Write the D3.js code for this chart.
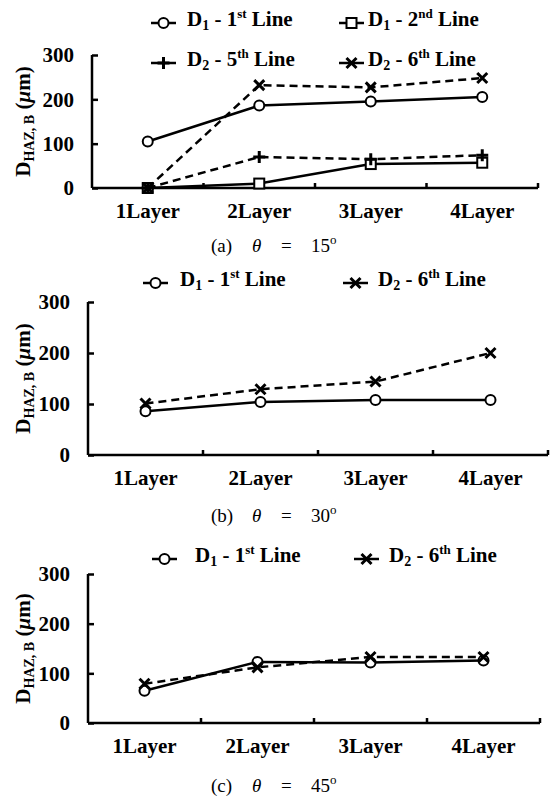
<!DOCTYPE html>
<html>
<head>
<meta charset="utf-8">
<script src="https://cdn.jsdelivr.net/npm/d3@7"></script>
<style>
  body { margin: 0; background: #fff; }
  svg { display: block; font-family: "Liberation Serif", "Times New Roman", serif; }
</style>
</head>
<body>
<svg width="552" height="798"></svg>
<script>
// categories and tick values shared by all three panels
var layers = ["1Layer", "2Layer", "3Layer", "4Layer"];
var yTicks = [0, 100, 200, 300];

// (a) theta = 15
var a_d1_1st = [105, 186, 195, 205];
var a_d1_2nd = [0, 10, 54, 57];
var a_d2_5th = [0, 70, 65, 74];
var a_d2_6th = [0, 232, 227, 248];

// (b) theta = 30
var b_d1_1st = [86, 104, 108, 108];
var b_d2_6th = [101, 129, 144, 200];

// (c) theta = 45
var c_d1_1st = [65, 123, 122, 126];
var c_d2_6th = [79, 112, 133, 133];

var svg = d3.select("svg");
var fs = 21;

// draws one marker shape centred at 0,0
function marker(g, type) {
    if (type == "circle") {
        g.append("circle").attr("r", 5).attr("fill", "#fff").attr("stroke", "#000").attr("stroke-width", 2);
    } else if (type == "square") {
        g.append("rect").attr("x", -5).attr("y", -5).attr("width", 10).attr("height", 10)
            .attr("fill", "#fff").attr("stroke", "#000").attr("stroke-width", 2);
    } else if (type == "plus") {
        g.append("path").attr("d", "M-6,0H6M0,-6V6").attr("stroke", "#000").attr("stroke-width", 3);
    } else if (type == "cross") {
        g.append("path").attr("d", "M-5,-5L5,5M-5,5L5,-5").attr("stroke", "#000").attr("stroke-width", 3);
    }
}

// legend label like "D1 - 1st Line"
function legendText(g, x, y, sub, num, sup) {
    var t = g.append("text").attr("x", x).attr("y", y + 3)
        .attr("font-size", fs).attr("font-weight", "bold");
    t.append("tspan").text("D");
    t.append("tspan").attr("font-size", 14).attr("dy", 4).text(sub);
    t.append("tspan").attr("dy", -4).text(" - " + num);
    t.append("tspan").attr("font-size", 13).attr("dy", -8).text(sup);
    t.append("tspan").attr("dy", 8).text(" Line");
}

function drawPanel(p) {
    var g = svg.append("g");

    var x = d3.scaleBand().domain(layers).range([p.left, p.right]);
    var y = d3.scaleLinear().domain([0, 300]).range([p.bottom, p.top]);

    // y axis, ticks pointing inward
    g.append("g")
        .attr("transform", "translate(" + p.left + ",0)")
        .call(d3.axisLeft(y).tickValues(yTicks).tickSize(-6).tickPadding(18))
        .call(function (s) {
            s.selectAll("path, line").attr("stroke", "#000").attr("stroke-width", 2.5);
            s.select(".domain").attr("d", "M0," + p.top + "V" + p.bottom);
            s.selectAll("text").attr("font-size", fs).attr("font-weight", "bold")
                .attr("font-family", "Liberation Serif").attr("fill", "#000");
        });

    // x axis, ticks between categories pointing up
    var bounds = layers.slice(1).map(function (d) { return x(d); });
    g.append("line").attr("x1", p.left).attr("x2", p.right)
        .attr("y1", p.bottom).attr("y2", p.bottom)
        .attr("stroke", "#000").attr("stroke-width", 2.5);
    g.selectAll(".xt").data(bounds.concat([p.right])).enter().append("line")
        .attr("x1", function (d) { return d; }).attr("x2", function (d) { return d; })
        .attr("y1", p.bottom).attr("y2", p.bottom - 5)
        .attr("stroke", "#000").attr("stroke-width", 2.5);
    g.selectAll(".xl").data(layers).enter().append("text")
        .attr("x", function (d) { return x(d) + x.bandwidth() / 2; })
        .attr("y", p.bottom + 30)
        .attr("text-anchor", "middle").attr("font-size", fs).attr("font-weight", "bold")
        .text(function (d) { return d; });

    // y axis title
    var yl = g.append("text")
        .attr("transform", "translate(" + 30 + "," + ((p.top + p.bottom) / 2) + ") rotate(-90)")
        .attr("text-anchor", "middle").attr("font-size", fs).attr("font-weight", "bold");
    yl.append("tspan").text("D");
    yl.append("tspan").attr("font-size", 14).attr("dy", 4).text("HAZ, B");
    yl.append("tspan").attr("dy", -4).text(" (");
    yl.append("tspan").attr("font-style", "italic").text("\u03bc");
    yl.append("tspan").text("m)");

    // series lines and markers
    var line = d3.line()
        .x(function (d, i) { return x(layers[i]) + x.bandwidth() / 2; })
        .y(function (d) { return y(d); });

    p.series.forEach(function (s) {
        g.append("path").datum(s.values)
            .attr("d", line).attr("fill", "none")
            .attr("stroke", "#000").attr("stroke-width", 2.5)
            .attr("stroke-dasharray", s.dashed ? "8,5" : null);
        s.values.forEach(function (v, i) {
            var m = g.append("g").attr("transform",
                "translate(" + (x(layers[i]) + x.bandwidth() / 2) + "," + y(v) + ")");
            marker(m, s.marker);
        });
    });

    // legend
    p.series.forEach(function (s) {
        var lx = s.lx, ly = s.ly;
        g.append("line").attr("x1", lx).attr("x2", lx + 25).attr("y1", ly).attr("y2", ly)
            .attr("stroke", "#000").attr("stroke-width", 2.5);
        marker(g.append("g").attr("transform", "translate(" + (lx + 12.5) + "," + ly + ")"), s.marker);
        legendText(g, s.tx, ly, s.sub, s.num, s.sup);
    });

    // caption  (x)  theta  =  NN°
    var cx = p.capX, c = g.append("text").attr("y", p.capY).attr("font-size", 19);
    c.append("tspan").attr("x", cx).text("(" + p.tag + ")");
    c.append("tspan").attr("x", cx + 41).attr("font-style", "italic").text("\u03b8");
    c.append("tspan").attr("x", cx + 70).attr("font-style", "normal").text("=");
    c.append("tspan").attr("x", cx + 100).text(p.angle);
    c.append("tspan").attr("font-size", 13).attr("dy", -8).text("o");
}

drawPanel({
    left: 92, right: 538, top: 55, bottom: 188, tag: "a", angle: "15", capX: 211, capY: 252,
    series: [
        { values: a_d1_1st, marker: "circle", dashed: false, lx: 151, ly: 23, tx: 187, sub: "1", num: "1", sup: "st" },
        { values: a_d1_2nd, marker: "square", dashed: false, lx: 339, ly: 23, tx: 368, sub: "1", num: "2", sup: "nd" },
        { values: a_d2_5th, marker: "plus", dashed: true, lx: 151, ly: 63, tx: 187, sub: "2", num: "5", sup: "th" },
        { values: a_d2_6th, marker: "cross", dashed: true, lx: 339, ly: 63, tx: 368, sub: "2", num: "6", sup: "th" }
    ]
});

drawPanel({
    left: 88, right: 548, top: 302, bottom: 455, tag: "b", angle: "30", capX: 211, capY: 522,
    series: [
        { values: b_d1_1st, marker: "circle", dashed: false, lx: 143, ly: 283, tx: 180, sub: "1", num: "1", sup: "st" },
        { values: b_d2_6th, marker: "cross", dashed: true, lx: 343, ly: 283, tx: 378, sub: "2", num: "6", sup: "th" }
    ]
});

drawPanel({
    left: 88, right: 540, top: 574, bottom: 723, tag: "c", angle: "45", capX: 211, capY: 792,
    series: [
        { values: c_d1_1st, marker: "circle", dashed: false, lx: 152, ly: 559, tx: 195, sub: "1", num: "1", sup: "st" },
        { values: c_d2_6th, marker: "cross", dashed: true, lx: 354, ly: 559, tx: 389, sub: "2", num: "6", sup: "th" }
    ]
});
</script>
</body>
</html>
